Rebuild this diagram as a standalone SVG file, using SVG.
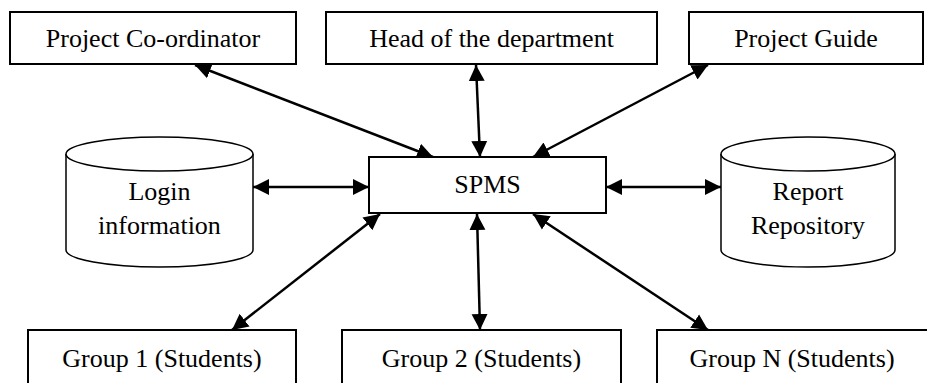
<svg xmlns="http://www.w3.org/2000/svg" width="927" height="383" viewBox="0 0 927 383">
<style>
.box{fill:#fff;stroke:#000;stroke-width:2}
.cyl{fill:#fff;stroke:#000;stroke-width:1.5}
.lbl{font-size:26px;fill:#000;text-anchor:middle}
.con{stroke:#000;stroke-width:2.5;fill:none;marker-start:url(#ah);marker-end:url(#ah)}
</style>
<defs>
<marker id="ah" markerUnits="userSpaceOnUse" markerWidth="18" markerHeight="18" viewBox="0 0 18 18" refX="16" refY="9" orient="auto-start-reverse">
<path d="M0,1 L16,9 L0,17 z" fill="#000"/>
</marker>
</defs>
<rect width="927" height="383" fill="#fff"/>
<g id="connectors">
<line class="con" x1="195" y1="65" x2="433" y2="157"/>
<line class="con" x1="476" y1="65" x2="480" y2="157"/>
<line class="con" x1="708" y1="65" x2="533" y2="157"/>
<line class="con" x1="253" y1="187" x2="369" y2="187"/>
<line class="con" x1="606" y1="187" x2="721" y2="187"/>
<line class="con" x1="380" y1="214" x2="232" y2="330"/>
<line class="con" x1="477" y1="214" x2="480" y2="330"/>
<line class="con" x1="533" y1="214" x2="708" y2="330"/>
</g>
<g font-family="'Liberation Serif', 'Times New Roman', Times, serif">
<g id="project-coordinator">
<rect class="box" x="10" y="12" width="286" height="52"/>
<text class="lbl" x="153" y="47">Project Co-ordinator</text>
</g>
<g id="head-of-department">
<rect class="box" x="326" y="12" width="331" height="52"/>
<text class="lbl" x="491.5" y="47">Head of the department</text>
</g>
<g id="project-guide">
<rect class="box" x="689" y="12" width="234" height="52"/>
<text class="lbl" x="806" y="47">Project Guide</text>
</g>
<g id="login-information">
<path class="cyl" d="M66,154 L66,250 A93.5,17 0 0 0 253,250 L253,154 A93.5,17 0 0 0 66,154 Z"/>
<path class="cyl" d="M66,154 A93.5,17 0 0 0 253,154" fill="none"/>
<text class="lbl" x="159.5" y="200">Login</text>
<text class="lbl" x="159.5" y="234">information</text>
</g>
<g id="spms">
<rect class="box" x="369" y="157" width="237" height="56"/>
<text class="lbl" x="487.5" y="193">SPMS</text>
</g>
<g id="report-repository">
<path class="cyl" d="M721,154 L721,250 A87,17 0 0 0 895,250 L895,154 A87,17 0 0 0 721,154 Z"/>
<path class="cyl" d="M721,154 A87,17 0 0 0 895,154" fill="none"/>
<text class="lbl" x="808" y="200">Report</text>
<text class="lbl" x="808" y="234">Repository</text>
</g>
<g id="group-1">
<rect class="box" x="28" y="330" width="268" height="70"/>
<text class="lbl" x="162" y="367">Group 1 (Students)</text>
</g>
<g id="group-2">
<rect class="box" x="342" y="330" width="279" height="70"/>
<text class="lbl" x="481.5" y="367">Group 2 (Students)</text>
</g>
<g id="group-n">
<rect class="box" x="657" y="330" width="290" height="70"/>
<text class="lbl" x="792" y="367">Group N (Students)</text>
</g>
</g>
</svg>
